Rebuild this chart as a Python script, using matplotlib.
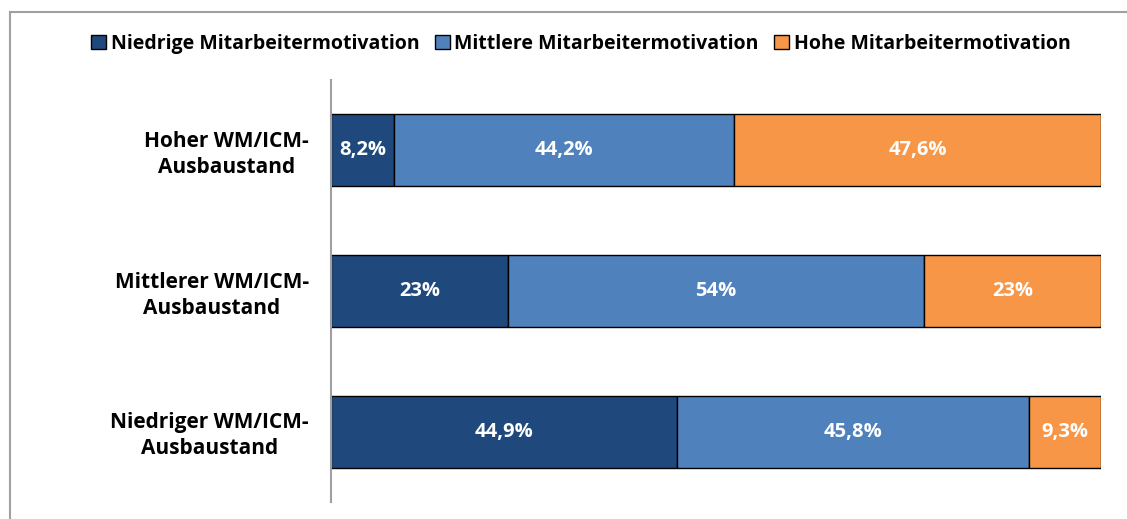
import matplotlib
matplotlib.use("Agg")
import matplotlib.pyplot as plt
from matplotlib.patches import Patch, Rectangle

categories = ["Hoher WM/ICM-\nAusbaustand", "Mittlerer WM/ICM-\nAusbaustand", "Niedriger WM/ICM-\nAusbaustand"]
series_names = ["Niedrige Mitarbeitermotivation", "Mittlere Mitarbeitermotivation", "Hohe Mitarbeitermotivation"]
niedrig = [8.2, 23, 44.9]
mittel = [44.2, 54, 45.8]
hoch = [47.6, 23, 9.3]
labels_niedrig = ["8,2%", "23%", "44,9%"]
labels_mittel = ["44,2%", "54%", "45,8%"]
labels_hoch = ["47,6%", "23%", "9,3%"]

colors = ["#1F497D", "#4F81BD", "#F79646"]
font = "Open Sans"

fig = plt.figure(figsize=(11.27, 5.19), dpi=100)
ax = fig.add_axes([331/1127, 1-502/519, (1101-331)/1127, (502-80)/519])

ypos = [2, 1, 0]
left = [0, 0, 0]
for vals, labs, col in zip([niedrig, mittel, hoch], [labels_niedrig, labels_mittel, labels_hoch], colors):
    ax.barh(ypos, vals, left=left, height=0.51, color=col, edgecolor="black", linewidth=1.0)
    for y, v, l, lab in zip(ypos, vals, left, labs):
        ax.text(l + v/2, y, lab, ha="center", va="center", color="white",
                fontsize=14.5, fontweight="bold", family=font)
    left = [a + b for a, b in zip(left, vals)]

ax.set_xlim(0, 100)
ax.set_ylim(-0.5, 2.5)
ax.set_yticks(ypos)
ax.set_yticklabels([])
ax.tick_params(axis="y", length=0)
for y, cat in zip(ypos, categories):
    ax.annotate(cat, xy=(0, y), xycoords=("axes fraction", "data"), xytext=(-16, -3),
                textcoords="offset points", ha="right", va="center", multialignment="center",
                fontsize=15, fontweight="bold", family=font, linespacing=1.3)
ax.set_xticks([])
for s in ["top", "right", "bottom"]:
    ax.spines[s].set_visible(False)
ax.spines["left"].set_color("#A0A0A0")
ax.spines["left"].set_linewidth(1.5)

handles = [Patch(facecolor=c, edgecolor="black", linewidth=1.0) for c in colors]
fig.legend(handles, series_names, loc="center", bbox_to_anchor=(581/1127, 1-44/519), ncol=3,
           frameon=False, handlelength=0.75, handleheight=0.75, handletextpad=0.25,
           columnspacing=0.8, prop={"family": font, "weight": "bold", "size": 14})

fig.patches.append(Rectangle((10/1127, -0.1), 1.2, 1 - 12/519 + 0.1, transform=fig.transFigure,
                             fill=False, edgecolor="#A0A0A0", linewidth=1.5))

fig.savefig("out.png", dpi=100)
